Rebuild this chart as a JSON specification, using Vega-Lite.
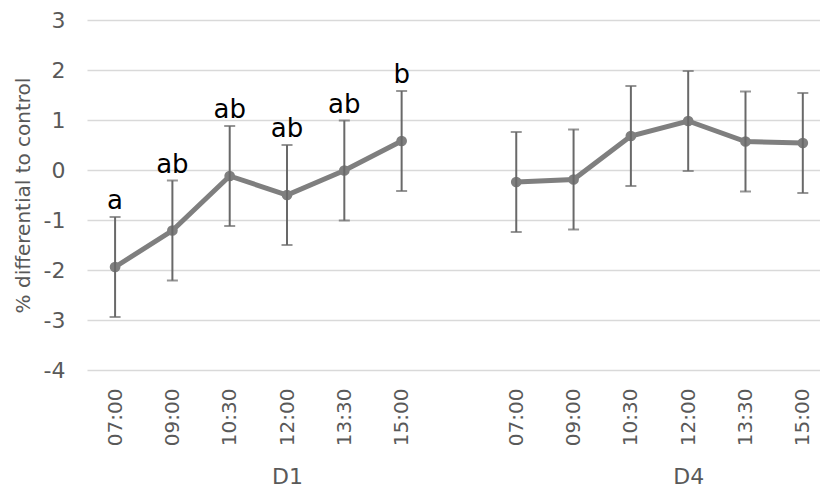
{
  "$schema": "https://vega.github.io/schema/vega-lite/v6.json",
  "width": 733,
  "height": 350,
  "autosize": "none",
  "padding": {"left": 87, "top": 20, "right": 0, "bottom": 122},
  "config": {"view": {"stroke": null}, "font": "DejaVu Sans"},
  "data": {
    "values": [
      {"g": "D1", "t": "07:00", "i": 0, "mean": -1.94, "lo": -2.94, "hi": -0.94, "lab": "a"},
      {"g": "D1", "t": "09:00", "i": 1, "mean": -1.21, "lo": -2.21, "hi": -0.21, "lab": "ab"},
      {"g": "D1", "t": "10:30", "i": 2, "mean": -0.12, "lo": -1.12, "hi": 0.88, "lab": "ab"},
      {"g": "D1", "t": "12:00", "i": 3, "mean": -0.5, "lo": -1.5, "hi": 0.5, "lab": "ab"},
      {"g": "D1", "t": "13:30", "i": 4, "mean": -0.01, "lo": -1.01, "hi": 0.99, "lab": "ab"},
      {"g": "D1", "t": "15:00", "i": 5, "mean": 0.58, "lo": -0.42, "hi": 1.58, "lab": "b"},
      {"g": "D4", "t": "07:00", "i": 7, "mean": -0.24, "lo": -1.24, "hi": 0.76, "lab": ""},
      {"g": "D4", "t": "09:00", "i": 8, "mean": -0.19, "lo": -1.19, "hi": 0.81, "lab": ""},
      {"g": "D4", "t": "10:30", "i": 9, "mean": 0.68, "lo": -0.32, "hi": 1.68, "lab": ""},
      {"g": "D4", "t": "12:00", "i": 10, "mean": 0.98, "lo": -0.02, "hi": 1.98, "lab": ""},
      {"g": "D4", "t": "13:30", "i": 11, "mean": 0.57, "lo": -0.43, "hi": 1.57, "lab": ""},
      {"g": "D4", "t": "15:00", "i": 12, "mean": 0.54, "lo": -0.46, "hi": 1.54, "lab": ""}
    ]
  },
  "layer": [
    {
      "mark": {"type": "line", "color": "#7f7f7f", "strokeWidth": 5},
      "encoding": {
        "x": {
          "field": "i", "type": "quantitative",
          "scale": {"domain": [-0.49, 12.3], "nice": false, "zero": false},
          "axis": {
            "values": [0, 1, 2, 3, 4, 5, 7, 8, 9, 10, 11, 12],
            "labelExpr": "['07:00','09:00','10:30','12:00','13:30','15:00','','07:00','09:00','10:30','12:00','13:30','15:00'][datum.value]",
            "labelAngle": 270,
            "labelFont": "DejaVu Sans",
            "labelFontSize": 20,
            "labelColor": "#595959",
            "labelPadding": 18,
            "labelOverlap": false,
            "labelFlush": false,
            "domain": false,
            "ticks": false,
            "grid": false,
            "title": null,
            "orient": "bottom"
          }
        },
        "y": {
          "field": "mean", "type": "quantitative",
          "title": "% differential to control",
          "scale": {"domain": [-4, 3], "nice": false, "zero": false},
          "axis": {
            "values": [-4, -3, -2, -1, 0, 1, 2, 3],
            "labelExpr": "datum.value < 0 ? '-' + abs(datum.value) : '' + datum.value",
            "grid": true,
            "gridColor": "#d9d9d9",
            "gridWidth": 1.6,
            "domain": false,
            "ticks": false,
            "labelFont": "DejaVu Sans",
            "labelFontSize": 22,
            "labelColor": "#595959",
            "labelPadding": 22,
            "titleFont": "DejaVu Sans",
            "titleFontSize": 20,
            "titleFontWeight": "normal",
            "titleColor": "#595959",
            "titleX": -64,
            "titleBaseline": "middle"
          }
        },
        "detail": {"field": "g"}
      }
    },
    {
      "mark": {"type": "circle", "color": "#7f7f7f", "opacity": 1, "size": 115},
      "encoding": {
        "x": {"field": "i", "type": "quantitative", "axis": null},
        "y": {"field": "mean", "type": "quantitative", "title": "% differential to control"}
      }
    },
    {
      "mark": {"type": "rule", "color": "#696969", "strokeWidth": 2},
      "encoding": {
        "x": {
          "field": "i", "type": "quantitative",
          "axis": {
            "values": [3, 10],
            "labelExpr": "datum.value == 3 ? 'D1' : 'D4'",
            "labelAngle": 0,
            "labelBaseline": "top",
            "labelFont": "DejaVu Sans",
            "labelFontSize": 22,
            "labelColor": "#595959",
            "labelPadding": 96,
            "labelFlush": false,
            "domain": false,
            "ticks": false,
            "grid": false,
            "title": null,
            "orient": "bottom"
          }
        },
        "y": {"field": "lo", "type": "quantitative", "title": "% differential to control"},
        "y2": {"field": "hi"}
      }
    },
    {
      "mark": {"type": "tick", "orient": "horizontal", "color": "#696969", "thickness": 2, "size": 11},
      "encoding": {
        "x": {"field": "i", "type": "quantitative", "axis": null},
        "y": {"field": "hi", "type": "quantitative", "title": "% differential to control"}
      }
    },
    {
      "mark": {"type": "tick", "orient": "horizontal", "color": "#696969", "thickness": 2, "size": 11},
      "encoding": {
        "x": {"field": "i", "type": "quantitative", "axis": null},
        "y": {"field": "lo", "type": "quantitative", "title": "% differential to control"}
      }
    },
    {
      "transform": [{"filter": "datum.lab != ''"}],
      "mark": {"type": "text", "font": "DejaVu Sans", "fontSize": 26, "color": "#000000", "baseline": "alphabetic", "dy": -8},
      "encoding": {
        "x": {"field": "i", "type": "quantitative", "axis": null},
        "y": {"field": "hi", "type": "quantitative", "title": "% differential to control"},
        "text": {"field": "lab"}
      }
    }
  ],
  "resolve": {"axis": {"x": "independent"}}
}
